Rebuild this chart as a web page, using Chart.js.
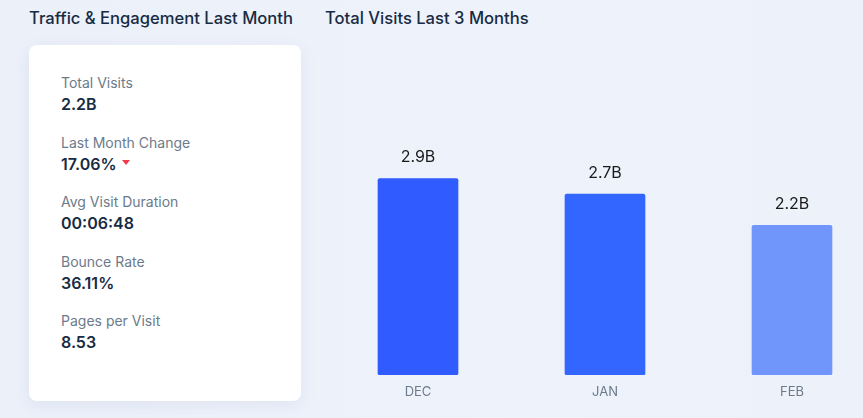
<!DOCTYPE html>
<html>
<head>
<meta charset="utf-8">
<script src="https://cdn.jsdelivr.net/npm/chart.js@4.4.0/dist/chart.umd.min.js"></script>
<style>
  html,body{margin:0;padding:0;width:863px;height:418px;overflow:hidden;}
  body{background:linear-gradient(90deg,#ebf0f9 0%,#eef2fb 60%,#edf1fa 100%);font-family:Inter,"Noto Sans",sans-serif;position:relative;}
  .h{position:absolute;top:8px;font-size:16.6px;font-weight:500;color:#172b43;white-space:nowrap;line-height:20px;}
  .card{position:absolute;left:29px;top:45px;width:272px;height:356px;background:#fff;border-radius:8px;box-shadow:0 4px 16px rgba(120,140,180,0.12);}
  .lab{position:absolute;left:32px;font-size:14px;color:#6c7b8b;line-height:18px;white-space:nowrap;}
  .val{position:absolute;left:32px;font-size:16px;font-weight:600;color:#172b43;line-height:20px;white-space:nowrap;}
  .tri{display:inline-block;width:0;height:0;border-left:4px solid transparent;border-right:4px solid transparent;border-top:5px solid #f23a4b;vertical-align:middle;margin-left:5px;position:relative;top:-3px;}
  #c{position:absolute;left:320px;top:0;}
</style>
</head>
<body>
<div class="h" style="left:29px;">Traffic &amp; Engagement Last Month</div>
<div class="h" style="left:325px;">Total Visits Last 3 Months</div>
<div class="card" id="card"></div>
<canvas id="c" width="570" height="418" style="width:570px;height:418px;"></canvas>
<script>
const metricLabels = ["Total Visits","Last Month Change","Avg Visit Duration","Bounce Rate","Pages per Visit"];
const metricValues = ["2.2B","17.06%","00:06:48","36.11%","8.53"];
const months = ["DEC","JAN","FEB"];
const visits = [2.9, 2.67, 2.21];
const visitLabels = ["2.9B","2.7B","2.2B"];
const barColors = ["#2f5bff","#3366ff","#7096fb"];

const card = document.getElementById('card');
const labTops = [29, 89, 148, 208, 267];
metricLabels.forEach((l,i)=>{
  const a=document.createElement('div');a.className='lab';a.style.top=labTops[i]+'px';a.textContent=l;card.appendChild(a);
  const b=document.createElement('div');b.className='val';b.style.top=(labTops[i]+20)+'px';b.textContent=metricValues[i];
  if(i===1){const t=document.createElement('span');t.className='tri';b.appendChild(t);}
  card.appendChild(b);
});

const valueLabelPlugin = {
  id:'valueLabels',
  afterDatasetsDraw(chart){
    const ctx=chart.ctx; const meta=chart.getDatasetMeta(0);
    ctx.save();
    ctx.font='16px Inter, "Noto Sans", sans-serif';
    ctx.fillStyle='#1a1a1a';ctx.textAlign='center';ctx.textBaseline='middle';
    meta.data.forEach((bar,i)=>{ctx.fillText(visitLabels[i], bar.x, bar.y-21);});
    ctx.restore();
  }
};

new Chart(document.getElementById('c'),{
  type:'bar',
  data:{labels:months,datasets:[{data:visits,backgroundColor:barColors,borderRadius:2,borderSkipped:false,barThickness:80}]},
  options:{
    responsive:false,animation:false,
    layout:{padding:{left:4.5,right:4.5,top:104,bottom:9.5}},
    plugins:{legend:{display:false},tooltip:{enabled:false}},
    scales:{
      x:{offset:true,grid:{display:false,drawTicks:false},border:{display:false},
         ticks:{color:'#6c7b8b',font:{size:13,family:'Inter, "Noto Sans", sans-serif'},padding:9}},
      y:{display:false,min:0,max:4}
    }
  },
  plugins:[valueLabelPlugin]
});
</script>
</body>
</html>
